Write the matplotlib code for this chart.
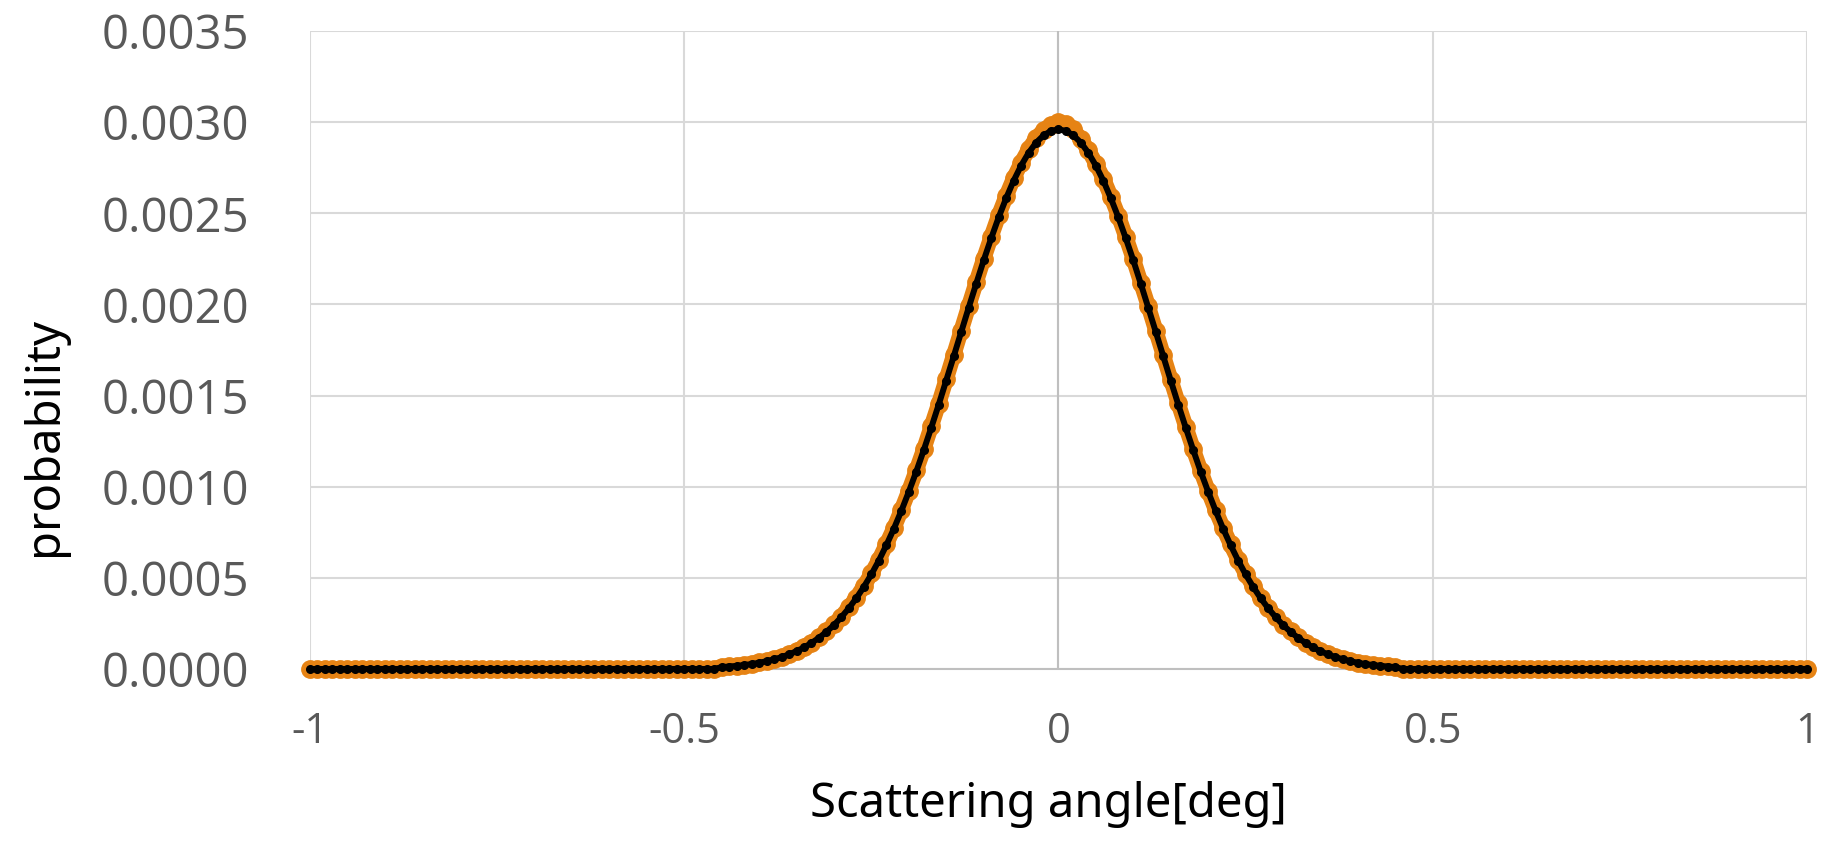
#!/usr/bin/env python3
# -*- coding: utf-8 -*-
import matplotlib
matplotlib.use("Agg")
import matplotlib.pyplot as plt
import numpy as np

# 散乱角 [deg], -1 .. 1 を 0.01 刻み
angle = np.round(np.arange(-100, 101) * 0.01, 2)

# ±0.46 より外側は 0
zero_tail = [0.0] * 55

# 測定値 (単位 1e-3), -0.45 .. 0.45
measured_core_e3 = [
    0.012, 0.015, 0.018, 0.023, 0.028, 0.036, 0.044, 0.055, 0.066, 0.082,
    0.099, 0.121, 0.145, 0.174, 0.206, 0.245, 0.288, 0.338, 0.392, 0.455,
    0.524, 0.598, 0.684, 0.773, 0.872, 0.977, 1.090, 1.206, 1.331, 1.456,
    1.590, 1.722, 1.856, 1.991, 2.122, 2.250, 2.371, 2.488, 2.594, 2.692,
    2.776, 2.850, 2.912, 2.955, 2.985, 3.000, 2.990, 2.960, 2.905, 2.845,
    2.772, 2.690, 2.592, 2.486, 2.370, 2.249, 2.120, 1.990, 1.856, 1.722,
    1.588, 1.457, 1.330, 1.206, 1.088, 0.976, 0.871, 0.773, 0.683, 0.599,
    0.523, 0.454, 0.392, 0.337, 0.287, 0.244, 0.206, 0.173, 0.145, 0.120,
    0.099, 0.081, 0.066, 0.054, 0.044, 0.035, 0.028, 0.022, 0.018, 0.014,
    0.011,
]

# 計算値 (単位 1e-3), -0.45 .. 0.45
calc_core_e3 = [
    0.0105, 0.0135, 0.017, 0.022, 0.027, 0.034, 0.043, 0.053, 0.065, 0.080,
    0.098, 0.118, 0.143, 0.171, 0.204, 0.241, 0.285, 0.334, 0.389, 0.451,
    0.519, 0.595, 0.679, 0.769, 0.867, 0.972, 1.083, 1.201, 1.324, 1.451,
    1.582, 1.715, 1.849, 1.982, 2.113, 2.241, 2.362, 2.477, 2.582, 2.678,
    2.761, 2.831, 2.887, 2.927, 2.952, 2.960, 2.952, 2.927, 2.887, 2.831,
    2.761, 2.678, 2.582, 2.477, 2.362, 2.241, 2.113, 1.982, 1.849, 1.715,
    1.582, 1.451, 1.324, 1.201, 1.083, 0.972, 0.867, 0.769, 0.679, 0.595,
    0.519, 0.451, 0.389, 0.334, 0.285, 0.241, 0.204, 0.171, 0.143, 0.118,
    0.098, 0.080, 0.065, 0.053, 0.043, 0.034, 0.027, 0.022, 0.017, 0.0135,
    0.0105,
]

x_ticks = [-1, -0.5, 0, 0.5, 1]
x_tick_labels = ["-1", "-0.5", "0", "0.5", "1"]
y_ticks = [0.0, 0.0005, 0.0010, 0.0015, 0.0020, 0.0025, 0.0030, 0.0035]
y_tick_labels = ["%.4f" % v for v in y_ticks]

measured = np.array(zero_tail + measured_core_e3 + zero_tail) * 1e-3
calc = np.array(zero_tail + calc_core_e3 + zero_tail) * 1e-3

TICK_COLOR = "#595959"
GRID_COLOR = "#D9D9D9"
AXIS_COLOR = "#BFBFBF"
ORANGE = "#E68314"


def __plot():
  fig = plt.figure(figsize=(18.24, 8.43), dpi=100)
  ax = fig.add_axes([310 / 1824, 1 - 669 / 843, 1497 / 1824, 638 / 843])

  ax.plot(angle, measured, "-o", color=ORANGE, lw=11, ms=12.5,
          solid_capstyle="round", zorder=3, clip_on=False)
  ax.plot(angle, calc, "-o", color="black", lw=4.3, ms=5.5,
          solid_capstyle="round", zorder=4, clip_on=False)

  ax.set_xlim(-1, 1)
  ax.set_ylim(0, 0.0035)
  ax.set_xticks(x_ticks)
  ax.set_xticklabels(x_tick_labels)
  ax.set_yticks(y_ticks)
  ax.set_yticklabels(y_tick_labels)
  ax.tick_params(axis="y", length=0, pad=44, labelsize=34,
                 labelcolor=TICK_COLOR)
  ax.tick_params(axis="x", length=0, pad=30, labelsize=30,
                 labelcolor=TICK_COLOR)
  for lbl in ax.get_xticklabels() + ax.get_yticklabels():
    lbl.set_family("Open Sans")

  ax.grid(True, color=GRID_COLOR, lw=1.5, zorder=0)
  ax.set_axisbelow(True)
  for side in ["top", "right", "left"]:
    ax.spines[side].set_visible(False)
  ax.spines["bottom"].set_color(AXIS_COLOR)
  ax.spines["bottom"].set_linewidth(1.5)
  # x = 0 の縦軸線
  ax.axvline(0, color=AXIS_COLOR, lw=1.5, zorder=1)

  fig.text(1048 / 1824, 1 - 805 / 843, "Scattering angle[deg]",
           ha="center", va="center", fontsize=34, family="Noto Sans",
           color="black")
  fig.text(45 / 1824, 1 - 436 / 843, "probability", rotation=90,
           ha="center", va="center", fontsize=34, family="Noto Sans",
           color="black")

  fig.savefig("out.png", dpi=100)


if __name__ == '__main__':
  __plot()
